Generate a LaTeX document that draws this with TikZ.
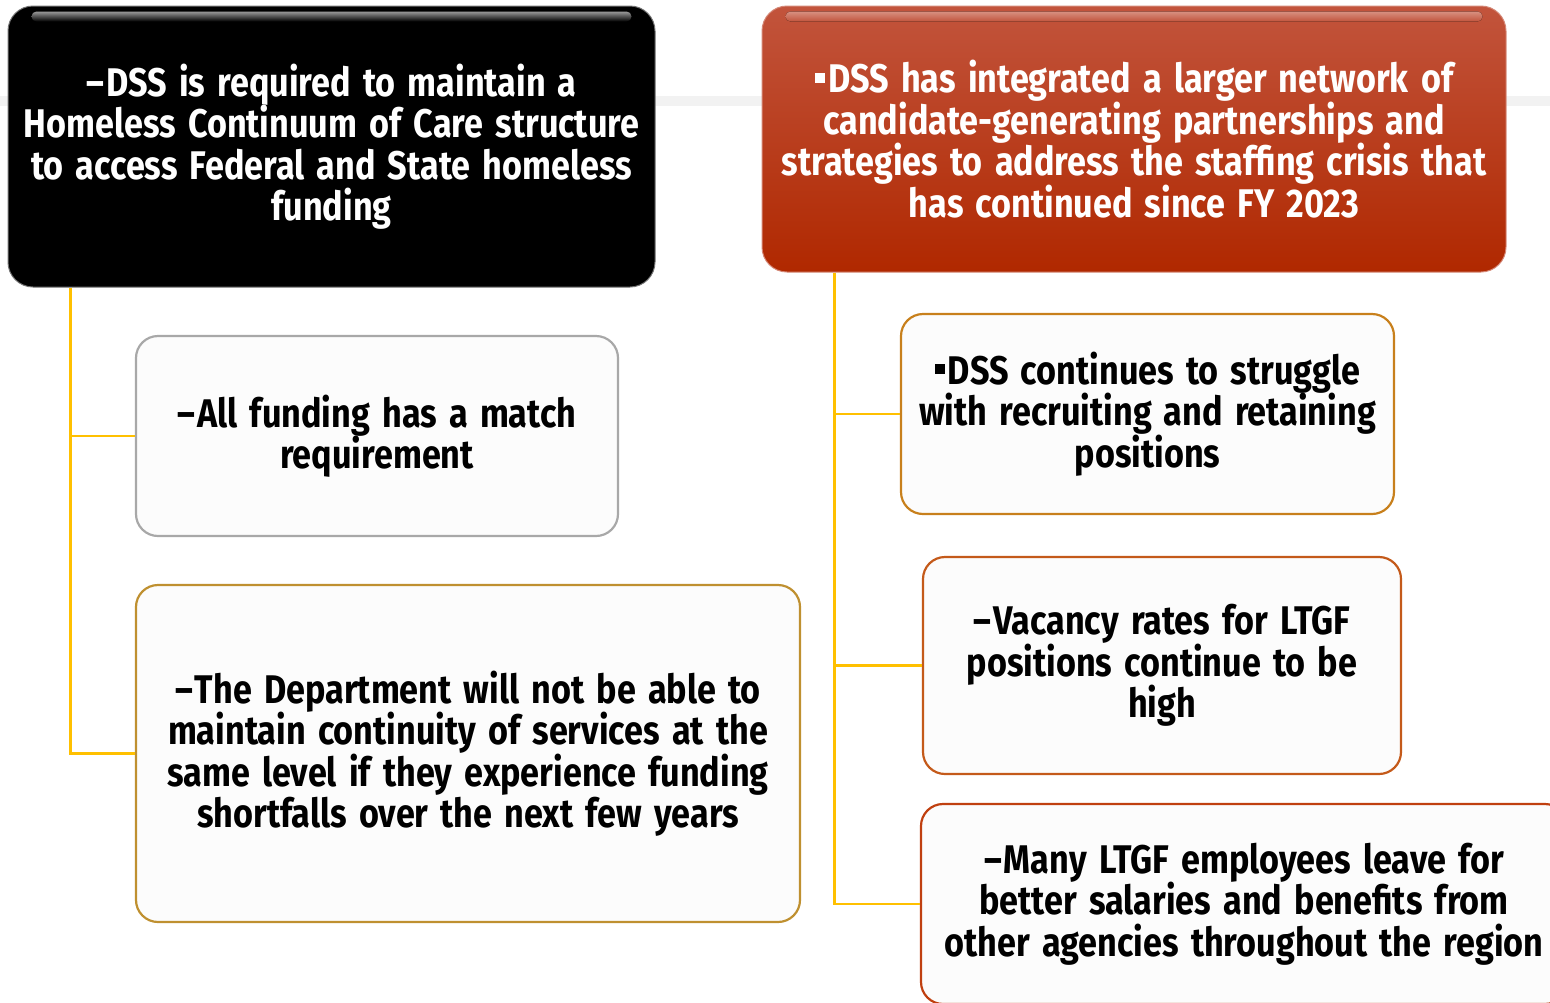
\documentclass[tikz,border=0pt]{standalone}
\usepackage{fontspec}
\setmainfont{Fira Sans}[FakeStretch=0.855, WordSpace=1.5]
\usepackage{xcolor}
\usepackage{tikz}
\usetikzlibrary{calc, shadings, positioning}
\definecolor{trunkgold}{HTML}{FFC000}
\definecolor{redtop}{HTML}{C2543C}
\definecolor{redbot}{HTML}{B02800}
\definecolor{edgegray}{HTML}{A8A8A8}
\definecolor{edgegold}{HTML}{BF9030}
\definecolor{edgeamber}{HTML}{C8801C}
\definecolor{edgerust}{HTML}{C45A1A}
\definecolor{edgered}{HTML}{C04010}
\definecolor{paper}{HTML}{FCFCFC}
\tikzset{
    headnode/.style = {rectangle, rounded corners=25pt, inner sep=0pt, align=center,
      text=white, font=\fontsize{40}{41.5}\selectfont\bfseries},
    leafnode/.style = {draw, rectangle, rounded corners=22pt, fill=paper, line width=2.2pt,
      inner sep=0pt, align=center, font=\fontsize{40}{41.5}\selectfont\bfseries},
    connect/.style = {trunkgold, line width=2.8pt},
    every text node part/.style={align=center}
}
\newcommand{\dashbul}{\textendash\kern0.05em}
\newcommand{\sqbul}{\rule[0.25em]{0.25em}{0.25em}\kern0.08em}

\begin{document}
\begin{tikzpicture}[x=1pt, y=-1pt]
    \useasboundingbox (0,0) rectangle (1550,1002);
    \clip (0,0) rectangle (1550,1002);
    \fill[black!5] (0,96) rectangle (1550,106);

    \node [name=dssreq, headnode, fill=black, draw=black!55, line width=1pt,
        minimum width=647pt, minimum height=281pt] at (331.5,146.5)
        {\dashbul DSS is required to maintain a\\Homeless Continuum of Care structure\\to access Federal and State homeless\\funding};
    \fill[top color=black!40, bottom color=black, rounded corners=5pt]
        ([xshift=24pt,yshift=-6pt]dssreq.north west) rectangle ([xshift=-24pt,yshift=-16pt]dssreq.north east);

    \node [name=dssint, headnode, top color=redtop, bottom color=redbot, draw=redtop!70!white, line width=1pt,
        minimum width=744pt, minimum height=266pt] at (1134,139)
        {\sqbul DSS has integrated a larger network of\\candidate-generating partnerships and\\strategies to address the staffing crisis that\\has continued since FY 2023};
    \fill[top color=redtop!65!white, bottom color=redtop, rounded corners=5pt]
        ([xshift=24pt,yshift=-6pt]dssint.north west) rectangle ([xshift=-24pt,yshift=-16pt]dssint.north east);

    \node [name=match, leafnode, draw=edgegray, minimum width=482pt, minimum height=200pt]
        at (377,436) {\dashbul All funding has a match\\requirement};
    \node [name=depart, leafnode, draw=edgegold, minimum width=664pt, minimum height=337pt]
        at (468,753.5) {\dashbul The Department will not be able to\\maintain continuity of services at the\\same level if they experience funding\\shortfalls over the next few years};

    \node [name=struggle, leafnode, draw=edgeamber, minimum width=493pt, minimum height=200pt]
        at (1147.5,414) {\sqbul DSS continues to struggle\\with recruiting and retaining\\positions};
    \node [name=vacancy, leafnode, draw=edgerust, minimum width=478pt, minimum height=217pt]
        at (1162,665.5) {\dashbul Vacancy rates for LTGF\\positions continue to be\\high};
    \node [name=leave, leafnode, draw=edgered, minimum width=646pt, minimum height=200pt]
        at (1244,904) {\dashbul Many LTGF employees leave for\\better salaries and benefits from\\other agencies throughout the region};

    \coordinate (ltrunk) at ([xshift=63pt]dssreq.south west);
    \coordinate (rtrunk) at ([xshift=73pt]dssint.south west);
    \draw [connect] (ltrunk) |- (match.west);
    \draw [connect] (ltrunk) |- (depart.west);
    \draw [connect] (rtrunk) |- (struggle.west);
    \draw [connect] (rtrunk) |- (vacancy.west);
    \draw [connect] (rtrunk) |- (leave.west);
\end{tikzpicture}
\end{document}
